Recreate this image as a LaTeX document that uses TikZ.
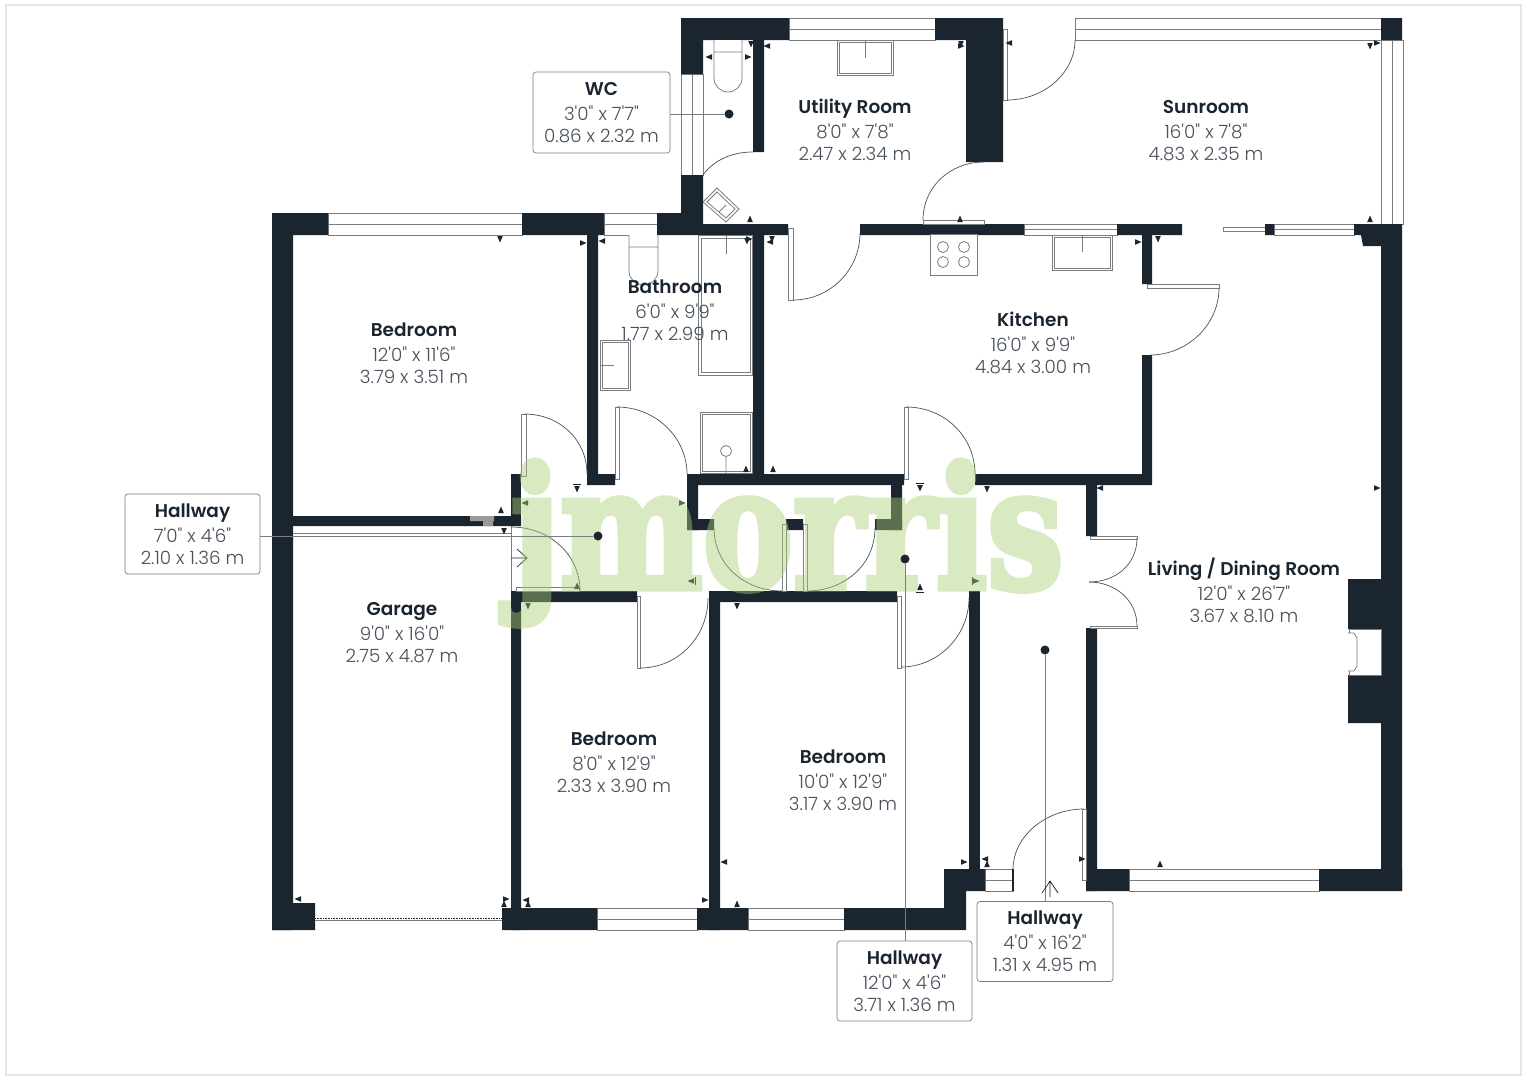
\documentclass[tikz,border=0pt]{standalone}
\usepackage{fontspec}
\setmainfont{Poppins}[Ligatures=TeXOff,UprightFont=* Light,BoldFont=* SemiBold]
\newfontfamily\stampfont{DejaVu Serif}[BoldFeatures={FakeBold=4}]
\definecolor{walldark}{RGB}{26,37,48}
\definecolor{linegray}{RGB}{120,125,130}
\definecolor{dimgray}{RGB}{72,80,90}
\definecolor{stampgreen}{RGB}{170,205,116}
\tikzset{
	wall/.style={fill=walldark,draw=none},
	fixture/.style={draw=linegray,line width=0.8pt,fill=white},
	doorleaf/.style={draw=linegray,line width=0.8pt,fill=white},
	swing/.style={draw=walldark!80,line width=0.7pt},
	roomtext/.style={align=center,font=\fontsize{18.3}{22}\selectfont,text=dimgray,inner sep=0pt},
	tagbox/.style={roomtext,draw=linegray,line width=0.7pt,fill=white,rounded corners=3pt,minimum width=135pt,minimum height=80pt},
	leader/.style={draw=linegray,line width=0.9pt},
	tagdot/.style={circle,fill=walldark,inner sep=0pt,minimum size=9pt}
}
\newcommand{\roomname}[1]{{\bfseries\fontsize{18.5}{22}\selectfont\textcolor{walldark}{#1}}\\[3pt]}
\newcommand{\winh}[3]{\draw[fixture] (#1,#3) rectangle (#2,#3+22); \draw[linegray,line width=0.8pt] (#1,#3+11) -- (#2,#3+11);}
\newcommand{\winv}[3]{\draw[fixture] (#3,#1) rectangle (#3+22,#2); \draw[linegray,line width=0.8pt] (#3+11,#1) -- (#3+11,#2);}
\newcommand{\dimtick}[3]{\fill[walldark,shift={(#1,#2)},rotate=#3] (3.5,0) -- (-3,2.8) -- (-3,-2.8) -- cycle;}

\begin{document}
\begin{tikzpicture}[x=1pt,y=-1pt]
		\useasboundingbox (0,0) rectangle (1527,1080);
		\draw[black!10,line width=1.5pt] (6,5) rectangle (1521,1075);

		% windows
		\winh{328}{522}{213}
		\winh{604}{657}{213}
		\winh{789}{935}{18}
		\winh{1075}{1381}{18}
		\winv{40}{224}{1381}
		\winv{74}{175}{681}
		\draw[fixture] (1024,224) rectangle (1117,235);
		\draw[linegray,line width=0.8pt] (1024,229.5) -- (1117,229.5);
		\draw[fixture] (1274,224) rectangle (1354,235);
		\draw[linegray,line width=0.8pt] (1274,229.5) -- (1354,229.5);
		\draw[fixture] (1223,227) rectangle (1265,231);
		\draw[fixture] (985,869) rectangle (1013,891);
		\draw[linegray,line width=0.8pt] (985,880) -- (1013,880);
		\winh{597}{697}{908}
		\winh{748}{844}{908}
		\winh{1129}{1319}{869}

		% walls
		\path[wall] (272,213) rectangle (328,235) (522,213) rectangle (604,235) (272,213) rectangle (293,930);
		\path[wall] (272,903) rectangle (315,930) (293,516) rectangle (521,526);
		\path[wall] (587,235) rectangle (598,485) (587,474) rectangle (615,485);
		\path[wall] (657,213) rectangle (703,235) (681,175) rectangle (703,235);
		\path[wall] (681,18) rectangle (789,40) (681,18) rectangle (703,74) (753,40) rectangle (764,152);
		\path[wall] (935,18) rectangle (1003,40) (966,18) rectangle (1003,162);
		\path[wall] (703,224) rectangle (788,235) (753,235) rectangle (764,474);
		\path[wall] (860,224) rectangle (1024,235) (1117,224) rectangle (1182,235) (1142,235) rectangle (1152,284);
		\path[wall] (1381,18) rectangle (1402,40) (1265,224) rectangle (1274,235);
		\path[wall] (1354,224) -- (1402,224) -- (1402,890) -- (1381,890) -- (1381,246) -- (1363,246) -- (1361,235) -- (1354,235) -- cycle;
		\path[wall] (1142,355) rectangle (1152,485) (975,474) rectangle (1152,485);
		\path[wall] (1086,474) rectangle (1097,536) (1086,628) rectangle (1097,891);
		\path[wall] (1086,869) rectangle (1129,891) (1319,869) rectangle (1402,891);
		\path[wall] (1348,579) rectangle (1381,629) (1348,675) rectangle (1381,723);
		\path[wall] (687,474) rectangle (904,485) (687,474) rectangle (698,530) (891,474) rectangle (902,530);
		\path[wall] (687,519) rectangle (714,530) (786,519) rectangle (803,530) (875,519) rectangle (902,530);
		\path[wall] (511,474) rectangle (521,526);
		\path[wall] (511,591) rectangle (637,602) (511,591) rectangle (521,930);
		\path[wall] (709,591) rectangle (897,602) (709,591) rectangle (720,930);
		\path[wall] (969,591) rectangle (980,869);
		\path[wall] (502,908) rectangle (597,930) (697,908) rectangle (748,930);
		\path[wall] (844,908) -- (944,908) -- (944,869) -- (985,869) -- (985,891) -- (966,891) -- (966,930) -- (844,930) -- cycle;
		\fill[black!40] (470,516) rectangle (494,521) (483,516) rectangle (493,526);

		% garage door and front
		\draw[linegray,line width=0.8pt] (293,533) -- (511,533) (293,536) -- (511,536);
		\draw[linegray,line width=0.8pt] (511,526) -- (511,591);
		\draw[walldark,densely dotted,line width=0.6pt] (315,918) -- (502,918);
		\draw[linegray,line width=0.8pt] (315,920) -- (502,920);
		\draw[fixture] (1349,629) rectangle (1381,675);
		\draw[fixture] (1348,633) -- (1354,633) -- (1357,638) -- (1357,666) -- (1354,671) -- (1348,671);

		% doors
		\draw[doorleaf] (1003,29) rectangle (1007,100);
		\draw[swing] (1075,40) .. controls (1075,73) and (1044,100) .. (1007,100);
		\draw[swing] (703,175) .. controls (714,160) and (732,152) .. (753,152);
		\draw[doorleaf] (923,220) rectangle (984,224);
		\draw[swing] (923,220) .. controls (923,187) and (950,162) .. (984,162);
		\draw[doorleaf] (788,228) rectangle (793,300);
		\draw[swing] (793,300) .. controls (830,300) and (860,270) .. (860,233);
		\draw[doorleaf] (1147,284) rectangle (1219,288);
		\draw[swing] (1219,288) .. controls (1219,325) and (1187,355) .. (1150,355);
		\draw[doorleaf] (521,414) rectangle (526,476);
		\draw[swing] (524,414) .. controls (560,414) and (587,440) .. (587,474);
		\draw[doorleaf] (615,407) rectangle (619,479);
		\draw[swing] (617,407) .. controls (655,407) and (687,437) .. (687,474);
		\draw[doorleaf] (904,407) rectangle (908,479);
		\draw[swing] (906,407) .. controls (945,407) and (975,437) .. (975,474);
		\draw[doorleaf] (516,587) rectangle (579,591);
		\draw[swing] (511,527) .. controls (550,527) and (580,555) .. (580,591);
		\draw[doorleaf] (782,524) rectangle (786,591);
		\draw[swing] (714,528) .. controls (714,565) and (745,591) .. (782,591);
		\draw[doorleaf] (803,524) rectangle (807,591);
		\draw[swing] (875,528) .. controls (875,565) and (844,591) .. (807,591);
		\draw[doorleaf] (637,596) rectangle (640,668);
		\draw[swing] (640,668) .. controls (678,668) and (708,637) .. (708,598);
		\draw[doorleaf] (897,596) rectangle (901,668);
		\draw[swing] (901,667) .. controls (938,667) and (969,636) .. (969,598);
		\draw[doorleaf] (1090,536) rectangle (1137,539);
		\draw[swing] (1137,538) .. controls (1137,565) and (1115,582) .. (1089,582);
		\draw[doorleaf] (1090,626) rectangle (1137,628);
		\draw[swing] (1137,626) .. controls (1137,600) and (1115,582) .. (1089,582);
		\draw[swing] (1013,869) .. controls (1013,837) and (1045,809) .. (1084,809);
		\draw[doorleaf] (1082,809) rectangle (1086,880);
		\draw[walldark,line width=1.5pt] (1013,869) -- (1013,891);
		\draw[walldark,line width=0.7pt] (511,558) -- (527,558) (517,549) -- (527,558) -- (517,567);

		% fixtures
		\draw[fixture] (714,40) -- (714,78) arc (180:0:14 and 14) -- (742,40) (714,52) -- (742,52);
		\draw[fixture] (629,235) -- (629,271) arc (180:0:14.5 and 14) -- (658,235) (629,247) -- (658,247);
		\draw[fixture] (837,40) rectangle (893,75) (839,42) rectangle (891,73) (865,40) -- (865,58);
		\draw[fixture] (698,235) rectangle (752,375) (701,238) rectangle (750,372) (726,235) -- (726,254);
		\draw[fixture] (700,412) rectangle (752,473) (702,414) rectangle (750,471);
		\draw[fixture] (726,451) circle (5.5) (726,456.5) -- (726,473);
		\draw[fixture] (600,340) rectangle (630,390) (602,342) rectangle (628,388) (600,365) -- (614,365);
		\draw[fixture] (717,188) -- (739,209) -- (726,222) -- (703,202) -- cycle (717,192) -- (735,209) -- (726,218) -- (707,202) -- cycle (726,205) -- (719,212);
		\draw[fixture] (930,234) rectangle (977,275);
		\draw[fixture] (943,247) circle (5.5) (964,247) circle (5.5) (943,262) circle (5.5) (964,262) circle (5.5);
		\draw[fixture] (1052,235) rectangle (1112,270) (1054,237) rectangle (1110,268) (1082,235) -- (1082,252);

		% measuring marks
		\dimtick{709}{57}{180} \dimtick{748}{57}{0} \dimtick{751}{44}{-90} \dimtick{767}{46}{180}
		\dimtick{961}{46}{0} \dimtick{961}{44}{-90} \dimtick{750}{219}{90} \dimtick{747}{241}{-90}
		\dimtick{749}{239}{0} \dimtick{770}{242}{180} \dimtick{772}{239}{-90} \dimtick{960}{219}{90}
		\dimtick{583}{243}{0} \dimtick{602}{241}{180} \dimtick{1370}{46}{-90} \dimtick{1377}{43}{0}
		\dimtick{1370}{219}{90} \dimtick{1009}{43}{180} \dimtick{1138}{242}{0} \dimtick{1158}{239}{-90}
		\dimtick{577}{489}{-90} \dimtick{525}{503}{180} \dimtick{682}{503}{0} \dimtick{746}{469}{90}
		\dimtick{773}{469}{90} \dimtick{920}{488}{-90} \dimtick{987}{489}{-90} \dimtick{501}{510}{90}
		\dimtick{504}{531}{-90} \dimtick{577}{586}{90} \dimtick{528}{606}{-90} \dimtick{737}{606}{-90}
		\dimtick{691}{581}{180} \dimtick{920}{587}{90} \dimtick{976}{581}{0} \dimtick{1100}{488}{180}
		\dimtick{1377}{488}{0} \dimtick{964}{862}{0} \dimtick{985}{859}{180} \dimtick{987}{864}{90}
		\dimtick{1082}{859}{0} \dimtick{1160}{864}{90} \dimtick{298}{899}{180} \dimtick{506}{899}{0}
		\dimtick{504}{904}{90} \dimtick{526}{900}{180} \dimtick{528}{904}{90} \dimtick{705}{900}{0}
		\dimtick{724}{862}{180} \dimtick{737}{904}{90} \dimtick{500}{239}{-90}
		\draw[walldark,line width=0.5pt] (573,484) -- (581,484) (916,483) -- (924,483) (916,592) -- (924,592) (695,577) -- (695,585) (972,577) -- (972,585);

		% rooms
		\node[roomtext] (bedroomtop) at (414,353) {\roomname{Bedroom}12'0" x 11'6"\\3.79 x 3.51 m};
		\node[roomtext] (utility) at (855,130) {\roomname{Utility Room}8'0" x 7'8"\\2.47 x 2.34 m};
		\node[roomtext] (sunroom) at (1206,131) {\roomname{Sunroom}16'0" x 7'8"\\4.83 x 2.35 m};
		\node[roomtext] (bathroom) at (675,310) {\roomname{Bathroom}6'0" x 9'9"\\1.77 x 2.99 m};
		\node[roomtext] (kitchen) at (1033,342.5) {\roomname{Kitchen}16'0" x 9'9"\\4.84 x 3.00 m};
		\node[roomtext] (living) at (1244,590) {\roomname{Living / Dining Room}12'0" x 26'7"\\3.67 x 8.10 m};
		\node[roomtext] (garage) at (402,632.5) {\roomname{Garage}9'0" x 16'0"\\2.75 x 4.87 m};
		\node[roomtext] (bedroomleft) at (614,762.5) {\roomname{Bedroom}8'0" x 12'9"\\2.33 x 3.90 m};
		\node[roomtext] (bedroomright) at (843,780.5) {\roomname{Bedroom}10'0" x 12'9"\\3.17 x 3.90 m};

		% watermark
		\begin{scope}[transparency group,opacity=0.445]
			\node[font=\stampfont\bfseries\fontsize{146}{146}\selectfont,text=stampgreen,inner sep=0pt,xscale=0.927,yscale=1.15,transform shape] (stamp) at (787,543) {jmorris};
		\end{scope}

		% tags
		\node[tagbox,minimum width=137pt,minimum height=81pt] (tagwc) at (601.5,112.5) {\roomname{WC}3'0" x 7'7"\\0.86 x 2.32 m};
		\node[tagbox] (taghalla) at (192.5,534) {\roomname{Hallway}7'0" x 4'6"\\2.10 x 1.36 m};
		\node[tagbox] (taghallb) at (904.5,981) {\roomname{Hallway}12'0" x 4'6"\\3.71 x 1.36 m};
		\node[tagbox,minimum width=136pt] (taghallc) at (1045,941.5) {\roomname{Hallway}4'0" x 16'2"\\1.31 x 4.95 m};
		\node[tagdot] (dotwc) at (729,114) {};
		\node[tagdot] (dothalla) at (598,536) {};
		\node[tagdot] (dothallb) at (905,559) {};
		\node[tagdot] (dothallc) at (1045,650) {};
		\draw[leader] (tagwc.east |- dotwc) -- (dotwc);
		\draw[leader] (taghalla.east |- dothalla) -- (dothalla);
		\draw[leader] (taghallb.north -| dothallb) -- (dothallb);
		\draw[leader] (taghallc.north) -- (dothallc);
		\draw[walldark,line width=0.7pt] (1042,893) -- (1050,881) -- (1058,893) (1050,881) -- (1050,897);
\end{tikzpicture}
\end{document}
